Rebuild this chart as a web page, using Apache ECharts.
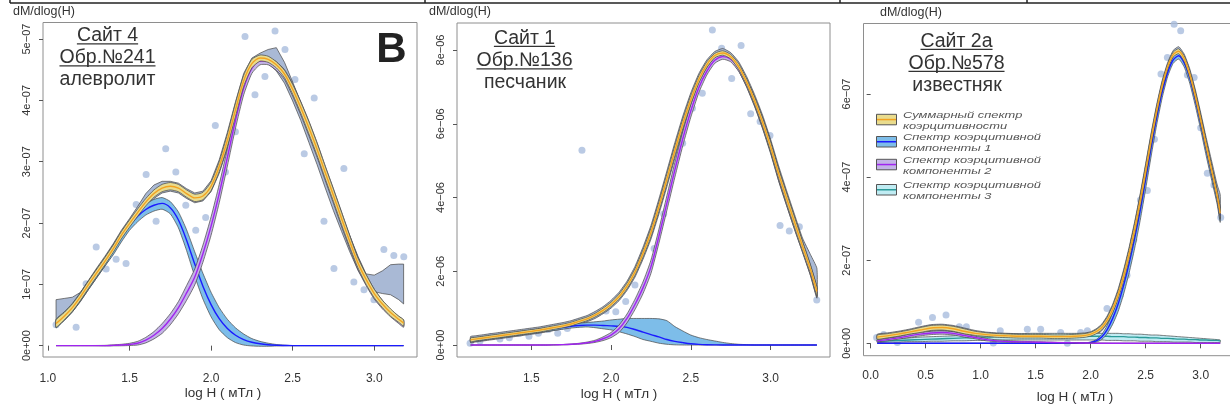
<!DOCTYPE html>
<html><head><meta charset="utf-8">
<script src="https://cdn.jsdelivr.net/npm/echarts@6/dist/echarts.min.js"></script>
<style>html,body{margin:0;padding:0;background:#fff}#c{width:1230px;height:414px}</style>
</head><body><div id="c"></div>
<script>
// ---------- Panel 1 (Сайт 4) : values in 1e-07 ----------
const p1X = [1.05,1.10,1.15,1.20,1.25,1.30,1.35,1.40,1.45,1.50,1.55,1.60,1.65,1.70,1.75,1.80,1.85,1.90,1.95,2.00,2.05,2.10,2.15,2.20,2.25,2.30,2.35,2.40,2.45,2.50,2.55,2.60,2.65,2.70,2.75,2.80,2.85,2.90,2.95,3.00,3.05,3.10,3.15,3.18];
const p1Sum = [0.36,0.48,0.62,0.80,1.00,1.19,1.38,1.58,1.80,1.99, 2.17,2.34,2.48,2.57,2.60,2.57,2.48,2.41,2.44,2.60, 2.92,3.35,3.85,4.32,4.60,4.69,4.67,4.58,4.43,4.18, 3.88,3.55,3.20,2.82,2.45,2.07,1.70,1.35,1.08,0.85, 0.68,0.54,0.43,0.37];
const p1SumHw = [0.06,0.06,0.06,0.06,0.06,0.06,0.06,0.06,0.06,0.06, 0.06,0.06,0.06,0.06,0.06,0.06,0.06,0.06,0.06,0.07, 0.08,0.10,0.11,0.09,0.07,0.05,0.05,0.05,0.06,0.08, 0.09,0.10,0.10,0.10,0.10,0.10,0.09,0.08,0.08,0.07, 0.06,0.06,0.05,0.05];
const p1C1 = [0.36,0.48,0.62,0.80,0.99,1.18,1.37,1.56,1.77,1.96, 2.11,2.22,2.29,2.32,2.25,2.05,1.72,1.33,0.97,0.67, 0.44,0.28,0.17,0.10,0.055,0.03,0.015,0.007,0.003,0, 0,0,0,0,0,0,0,0,0,0, 0,0,0,0];
const p1C1Hw = [0.07,0.07,0.07,0.07,0.07,0.07,0.07,0.08,0.08,0.08, 0.09,0.09,0.095,0.095,0.10,0.13,0.17,0.20,0.21,0.20, 0.18,0.15,0.12,0.09,0.06,0.04,0.025,0.012,0.005,0, 0,0,0,0,0,0,0,0,0,0, 0,0,0,0];
const p1C2 = [0,0,0,0,0,0,0,0.005,0.01,0.02, 0.04,0.09,0.17,0.28,0.43,0.62,0.86,1.12,1.50,1.95, 2.48,3.07,3.68,4.20,4.52,4.64,4.64,4.56,4.42,4.17, 3.87,3.54,3.19,2.81,2.44,2.06,1.69,1.34,1.07,0.84, 0.67,0.53,0.42,0.36];
const p1C2Hw = [0,0,0,0,0.002,0.003,0.005,0.008,0.012,0.018, 0.03,0.045,0.06,0.08,0.09,0.10,0.12,0.13,0.14,0.15, 0.15,0.14,0.13,0.11,0.08,0.06,0.06,0.07,0.08,0.10, 0.11,0.12,0.12,0.12,0.12,0.12,0.11,0.10,0.09,0.08, 0.07,0.06,0.06,0.06];
const p1GrayLo = [0.30,0.41,0.55,0.72,0.92,1.11,1.30,1.50,1.72,1.91, 2.09,2.26,2.40,2.49,2.52,2.49,2.40,2.33,2.36,2.51, 2.81,3.22,3.71,4.20,4.51,4.62,4.60,4.48,4.28,3.99, 3.67,3.31,2.95,2.57,2.20,1.86,1.53,1.23,1.00,0.88, 0.85,0.83,0.75,0.68];
const p1GrayHi = [0.75,0.77,0.79,0.87,1.07,1.27,1.46,1.66,1.88,2.07, 2.27,2.48,2.62,2.68,2.68,2.65,2.56,2.49,2.52,2.69, 3.03,3.48,3.98,4.44,4.69,4.77,4.83,4.86,4.62,4.30, 3.96,3.62,3.26,2.88,2.52,2.14,1.79,1.46,1.17,1.15, 1.22,1.32,1.33,1.33];
const p1PtX = [1.05,1.173,1.234,1.296,1.357,1.418,1.479,1.541,1.602,1.663,1.722,1.784,1.845,1.906,1.967,2.026,2.088,2.149,2.208,2.269,2.33,2.392,2.453,2.514,2.571,2.632,2.692,2.753,2.814,2.875,2.937,2.998,3.059,3.12,3.181];
const p1PtY = [0.34,0.30,1.01,1.61,1.25,1.41,1.34,2.30,2.79,2.03,3.21,2.83,2.29,1.88,2.09,3.59,2.83,3.49,5.04,4.09,4.39,5.13,4.83,4.34,3.13,4.04,2.03,1.26,2.89,1.04,0.91,0.75,1.57,1.47,1.45];
const p1XTicks = [1.0,1.5,2.0,2.5,3.0];
const p1YTicks = [0,1,2,3,4,5];
const p1YLabels = ['0e+00','1e\u221207','2e\u221207','3e\u221207','4e\u221207','5e\u221207'];

// ---------- Panel 2 (Сайт 1) : values in 1e-06 ----------
const p2X = [1.12,1.15,1.20,1.25,1.30,1.35,1.40,1.45,1.50,1.55,1.60,1.65,1.70,1.75,1.80,1.85,1.90,1.95,2.00,2.05,2.10,2.15,2.20,2.25,2.30,2.35,2.40,2.45,2.50,2.55,2.60,2.65,2.70,2.75,2.80,2.85,2.90,2.95,3.00,3.05,3.10,3.15,3.20,3.25,3.29];
const p2Sum = [0.14, 0.16,0.19,0.22,0.25,0.28,0.31,0.34,0.37,0.40,0.44, 0.48,0.52,0.57,0.64,0.71,0.81,0.94,1.10,1.31,1.60, 1.98,2.48,3.05,3.75,4.50,5.27,6.00,6.65,7.20,7.60, 7.85,7.92,7.82,7.55,7.13,6.62,6.04,5.38,4.65,3.98, 3.33,2.68,2.05,1.45];
const p2SumHw = [0.05, 0.05,0.05,0.05,0.05,0.05,0.05,0.05,0.05,0.05,0.05, 0.05,0.05,0.05,0.05,0.05,0.05,0.06,0.06,0.07,0.08, 0.09,0.10,0.12,0.13,0.14,0.14,0.13,0.12,0.10,0.08, 0.06,0.06,0.06,0.08,0.09,0.10,0.12,0.13,0.13,0.14, 0.14,0.13,0.12,0.12];
const p2C1 = [0.13, 0.15,0.18,0.21,0.24,0.27,0.30,0.33,0.36,0.39,0.42, 0.45,0.48,0.51,0.53,0.54,0.54,0.53,0.52,0.51,0.48, 0.42,0.35,0.28,0.22,0.15,0.10,0.065,0.035,0.018,0.008, 0.003,0,0,0,0,0,0,0,0,0, 0,0,0,0];
const p2C1Lo = [0.08, 0.10,0.13,0.16,0.19,0.22,0.25,0.28,0.31,0.34,0.37, 0.40,0.43,0.46,0.48,0.49,0.47,0.44,0.41,0.36,0.30, 0.23,0.15,0.10,0.05,0.02,0.005,0,0,0,0, 0,0,0,0,0,0,0,0,0,0, 0,0,0,0];
const p2C1Hi = [0.18, 0.20,0.23,0.26,0.29,0.32,0.35,0.38,0.41,0.44,0.47, 0.50,0.53,0.56,0.59,0.61,0.63,0.65,0.68,0.70,0.72, 0.72,0.72,0.72,0.71,0.66,0.50,0.38,0.27,0.20,0.15, 0.11,0.07,0.04,0.02,0.01,0,0,0,0,0, 0,0,0,0];
const p2C2 = [0, 0,0,0,0,0,0,0,0,0,0, 0.005,0.01,0.02,0.035,0.06,0.10,0.17,0.27,0.44,0.72, 1.10,1.55,2.12,2.95,3.85,4.75,5.60,6.35,6.98,7.42, 7.72,7.82,7.75,7.50,7.10,6.60,6.02,5.37,4.62,3.95, 3.30,2.66,2.02,1.43];
const p2C2Hw = [0, 0,0,0,0,0,0,0,0,0,0, 0.003,0.005,0.008,0.012,0.02,0.03,0.05,0.07,0.10,0.12, 0.14,0.16,0.18,0.19,0.20,0.20,0.19,0.17,0.14,0.10, 0.08,0.07,0.07,0.08,0.10,0.12,0.14,0.15,0.16,0.16, 0.16,0.15,0.14,0.13];
const p2GrayLo = [0.06, 0.08,0.11,0.14,0.17,0.20,0.23,0.26,0.29,0.32,0.36, 0.40,0.44,0.49,0.56,0.63,0.72,0.85,1.00,1.20,1.48, 1.84,2.32,2.87,3.55,4.29,5.06,5.80,6.47,7.05,7.48, 7.75,7.82,7.72,7.43,6.99,6.46,5.86,5.19,4.45,3.78, 3.13,2.52,1.88,1.27];
const p2GrayHi = [0.23, 0.25,0.28,0.31,0.34,0.37,0.40,0.43,0.46,0.49,0.53, 0.57,0.61,0.66,0.73,0.80,0.91,1.04,1.21,1.43,1.73, 2.13,2.65,3.24,3.96,4.72,5.49,6.21,6.84,7.36,7.73, 7.96,8.04,7.93,7.68,7.28,6.79,6.23,5.58,4.86,4.19, 3.54,2.90,2.45,2.08];
const p2PtX = [1.117,1.179,1.246,1.304,1.363,1.426,1.486,1.545,1.607,1.666,1.726,1.787,1.818,1.969,2.03,2.092,2.15,2.27,2.33,2.449,2.51,2.572,2.635,2.693,2.756,2.815,2.875,2.934,2.996,3.059,3.117,3.18,3.289];
const p2PtY = [0.05,0.11,0.23,0.16,0.20,0.32,0.24,0.32,0.42,0.32,0.45,0.56,5.28,0.92,0.90,1.18,1.63,2.62,3.55,5.47,6.42,6.83,8.54,8.05,7.23,8.12,6.27,6.06,5.68,3.24,3.09,3.21,1.22];
const p2XTicks = [1.5,2.0,2.5,3.0];
const p2YTicks = [0,2,4,6,8];
const p2YLabels = ['0e+00','2e\u221206','4e\u221206','6e\u221206','8e\u221206'];

// ---------- Panel 3 (Сайт 2а) : values in 1e-07 ----------
const p3X = [0.06,0.15,0.25,0.35,0.45,0.55,0.65,0.75,0.85,0.95, 1.05,1.15,1.25,1.35,1.45,1.55,1.65,1.75,1.85,1.95, 2.00,2.05,2.10,2.15,2.20,2.25,2.30,2.35,2.40,2.45, 2.50,2.55,2.60,2.65,2.70,2.75,2.80,2.85,2.90,2.95, 3.00,3.05,3.10,3.15,3.177];
const p3Sum = [0.15,0.18,0.22,0.27,0.32,0.37,0.38,0.35,0.29,0.24, 0.21,0.19,0.18,0.17,0.17,0.17,0.16,0.16,0.17,0.19, 0.22,0.28,0.38,0.56,0.82,1.17,1.62,2.15,2.75,3.42, 4.15,4.90,5.60,6.20,6.66,6.95,7.03,6.85,6.48,5.97, 5.38,4.76,4.16,3.55,3.13];
const p3SumHw = [0.05,0.05,0.05,0.05,0.06,0.06,0.06,0.06,0.06,0.05, 0.045,0.045,0.045,0.045,0.045,0.045,0.045,0.045,0.045,0.045, 0.045,0.05,0.06,0.07,0.09,0.10,0.12,0.13,0.14,0.14, 0.14,0.13,0.11,0.09,0.07,0.06,0.06,0.07,0.09,0.10, 0.11,0.12,0.12,0.12,0.12];
const p3C1 = [0,0,0,0,0,0,0,0,0,0, 0,0,0,0,0,0,0,0,0.002,0.008, 0.02,0.06,0.15,0.33,0.60,0.95,1.40,1.93,2.53,3.20, 3.95,4.72,5.44,6.05,6.52,6.82,6.92,6.75,6.39,5.88, 5.30,4.68,4.09,3.51,3.07];
const p3C1Hw = [0,0,0,0,0,0,0,0,0,0, 0,0,0,0,0,0,0,0,0.002,0.005, 0.01,0.03,0.06,0.10,0.14,0.18,0.21,0.23,0.24,0.24, 0.23,0.21,0.18,0.14,0.10,0.08,0.08,0.10,0.13,0.15, 0.16,0.17,0.17,0.17,0.16];
const p3C2 = [0.06,0.09,0.13,0.18,0.22,0.25,0.26,0.24,0.19,0.14, 0.09,0.06,0.045,0.035,0.03,0.025,0.02,0.015,0.01,0.008, 0.005,0.003,0.002,0.001,0,0,0,0,0,0, 0,0,0,0,0,0,0,0,0,0, 0,0,0,0,0];
const p3C2Hw = [0.02,0.03,0.03,0.04,0.04,0.04,0.04,0.04,0.04,0.03, 0.03,0.02,0.02,0.015,0.012,0.01,0.008,0.006,0.005,0.004, 0.003,0.002,0.001,0,0,0,0,0,0,0, 0,0,0,0,0,0,0,0,0,0, 0,0,0,0,0];
const p3C3 = [0.05,0.06,0.07,0.08,0.09,0.10,0.11,0.12,0.13,0.14, 0.15,0.16,0.16,0.17,0.17,0.17,0.17,0.17,0.17,0.17, 0.17,0.17,0.17,0.17,0.16,0.16,0.16,0.15,0.15,0.14, 0.14,0.13,0.13,0.12,0.12,0.11,0.10,0.10,0.09,0.09, 0.08,0.08,0.07,0.07,0.06];
const p3C3Lo = [0.02,0.03,0.03,0.04,0.04,0.05,0.05,0.06,0.06,0.07, 0.07,0.08,0.08,0.08,0.08,0.08,0.08,0.08,0.08,0.08, 0.08,0.08,0.08,0.07,0.07,0.07,0.06,0.06,0.06,0.05, 0.05,0.05,0.04,0.04,0.04,0.03,0.03,0.03,0.03,0.02, 0.02,0.02,0.02,0.02,0.02];
const p3C3Hi = [0.08,0.09,0.11,0.13,0.15,0.16,0.17,0.18,0.20,0.21, 0.22,0.22,0.23,0.23,0.24,0.24,0.24,0.24,0.24,0.24, 0.24,0.24,0.24,0.24,0.24,0.24,0.23,0.23,0.22,0.22, 0.21,0.20,0.20,0.19,0.18,0.17,0.16,0.15,0.14,0.13, 0.12,0.11,0.10,0.09,0.08];
const p3GrayLo = [0.08,0.11,0.15,0.20,0.24,0.29,0.30,0.27,0.21,0.17, 0.15,0.13,0.12,0.11,0.11,0.11,0.10,0.10,0.11,0.13, 0.16,0.21,0.30,0.47,0.71,1.04,1.48,2.00,2.59,3.26, 3.99,4.75,5.47,6.09,6.57,6.87,6.95,6.76,6.37,5.85, 5.25,4.62,4.02,3.40,2.98];
const p3GrayHi = [0.22,0.25,0.29,0.34,0.40,0.45,0.46,0.43,0.37,0.31, 0.27,0.25,0.24,0.23,0.23,0.23,0.22,0.22,0.23,0.25, 0.28,0.35,0.46,0.66,0.94,1.31,1.78,2.32,2.93,3.60, 4.33,5.07,5.75,6.33,6.76,7.05,7.14,6.96,6.61,6.12, 5.55,4.95,4.38,3.81,3.58];
const p3PtX = [0.054,0.118,0.243,0.436,0.562,0.685,0.806,0.87,1.115,1.178,1.424,1.545,1.606,1.727,1.788,1.909,1.97,2.148,2.27,2.33,2.392,2.452,2.515,2.579,2.639,2.697,2.758,2.818,2.879,2.94,3.0,3.06,3.12,3.182];
const p3PtY = [0.14,0.21,0.02,0.51,0.62,0.68,0.40,0.40,0.01,0.30,0.34,0.34,0.16,0.26,0.0,0.26,0.30,0.84,1.16,1.64,2.49,3.45,3.68,4.91,6.48,6.88,7.68,7.52,6.46,6.40,5.19,4.09,3.81,3.03];
const p3XTicks = [0,0.5,1.0,1.5,2.0,2.5,3.0];
const p3YTicks = [0,2,4,6];
const p3YLabels = ['0e+00','2e\u221207','4e\u221207','6e\u221207'];

// ---------- texts ----------
const legendTexts = [['Суммарный спектр','коэрцитивности'],['Спектр коэрцитивной','компоненты 1'],['Спектр коэрцитивной','компоненты 2'],['Спектр коэрцитивной','компоненты 3']];
const yTitle = 'dM/dlog(H)';
const xTitle = 'log H ( мТл )';

// ---------- styles ----------
const FONT = '"Liberation Sans", Arial, Helvetica, sans-serif';
const C = {
  pt:'#a9bddd', gray:'#a9b9d5', edge:'#454545',
  sumF:'#e9dc8e', sumL:'#f3a21f',
  c1F:'#7dbde9', c1L:'#1b1bff',
  c2F:'#c3b3e7', c2L:'#a024f0',
  c3F:'#c0ecf3', c3L:'#2a9a98'
};

const lo = (c,h)=>c.map((v,i)=>v-h[i]);
const hi = (c,h)=>c.map((v,i)=>v+h[i]);

function scatter(gi, xs, ys){
  return {type:'scatter', xAxisIndex:gi, yAxisIndex:gi, symbolSize:7, z:1, silent:true, clip:true,
    itemStyle:{color:C.pt}, data: xs.map((x,i)=>[x, ys[i]])};
}
function band(gi, xs, l, h, fill, z, smooth){
  return {type:'custom', coordinateSystem:'cartesian2d', xAxisIndex:gi, yAxisIndex:gi, z, silent:true, clip:true,
    data: xs.map((x,i)=>[x, l[i], h[i]]), encode:{x:0, y:[1,2]},
    renderItem:(params, api)=>{
      if (params.dataIndex !== 0) return null;
      const top = xs.map((x,i)=>api.coord([x, h[i]]));
      const bot = xs.map((x,i)=>api.coord([x, l[i]])).reverse();
      return {type:'polygon', shape:{points: top.concat(bot), smooth: smooth}, style:{fill, stroke:C.edge, lineWidth:0.7}};
    }};
}
function curve(gi, xs, ys, color, z){
  return {type:'line', xAxisIndex:gi, yAxisIndex:gi, z, silent:true, showSymbol:false, symbol:'none', smooth:0.3,
    lineStyle:{color, width:1.4}, data: xs.map((x,i)=>[x, ys[i]])};
}
function xAx(gi, min, max, ticks, margin){
  return {type:'value', gridIndex:gi, min, max, axisLine:{show:false}, splitLine:{show:false},
    axisTick:{show:true, length:5, customValues:ticks, lineStyle:{color:'#555', width:1}},
    axisLabel:{customValues:ticks, margin, fontSize:12, color:'#333', fontFamily:FONT, formatter:v=>Number(v).toFixed(1)}};
}
function yAx(gi, min, max, ticks, labels){
  return {type:'value', gridIndex:gi, min, max, axisLine:{show:false}, splitLine:{show:false},
    axisTick:{show:true, length:4, customValues:ticks, lineStyle:{color:'#555', width:1}},
    axisLabel:{customValues:ticks, rotate:90, margin:11, fontSize:11, color:'#333', fontFamily:FONT,
      formatter:v=>labels[ticks.findIndex(t=>Math.abs(t-v)<1e-9)]}};
}
const gridBase = {show:true, borderColor:'#8e8e8e', borderWidth:1, backgroundColor:'rgba(0,0,0,0)', containLabel:false, outerBoundsMode:'none'};

// ---------- graphic texts ----------
const mctx = document.createElement('canvas').getContext('2d');
function tw(text, font){ mctx.font = font; return mctx.measureText(text).width; }
const G = [];
function txt(x, y, text, size, opts){
  opts = opts || {};
  const font = (opts.italic?'italic ':'') + (opts.bold?'bold ':'') + size + 'px ' + FONT;
  G.push({type:'text', x, y, z:100, silent:true, scaleX:opts.sx||1, style:{text, font, fill:opts.fill||'#333', align:opts.align||'center', verticalAlign:'middle'}});
  if (opts.underline){
    const w = tw(text, font);
    const uy = y + size*0.4;
    G.push({type:'line', z:100, silent:true, shape:{x1:x-w/2, y1:uy, x2:x+w/2, y2:uy}, style:{stroke:'#333', lineWidth:1.2}});
  }
}
// top frame fragments
G.push({type:'line', z:100, silent:true, shape:{x1:10, y1:3, x2:1230, y2:3}, style:{stroke:'#222', lineWidth:1.5}});
[10,425,840,1027].forEach(x=>G.push({type:'line', z:100, silent:true, shape:{x1:x, y1:0, x2:x, y2:3}, style:{stroke:'#222', lineWidth:1.5}}));

// panel titles
txt(107.5, 36, 'Сайт 4', 19.5, {underline:true});
txt(107.5, 58, 'Обр.№241', 19.5, {underline:true});
txt(107.5, 80, 'алевролит', 19.5);
txt(391.5, 50, 'B', 42, {bold:true, fill:'#222'});
txt(524.5, 38.5, 'Сайт 1', 19.5, {underline:true});
txt(524.5, 61, 'Обр.№136', 19.5, {underline:true});
txt(525, 83, 'песчаник', 19.5);
txt(956.5, 41.5, 'Сайт 2а', 19.5, {underline:true});
txt(956.5, 63.5, 'Обр.№578', 19.5, {underline:true});
txt(957, 86, 'известняк', 19.5);
// axis titles
txt(13, 12, yTitle, 12.5, {align:'left'});
txt(429, 12, yTitle, 12.5, {align:'left'});
txt(880, 13, yTitle, 12.5, {align:'left'});
txt(223, 393, xTitle, 13.5);
txt(619, 394, xTitle, 13.5);
txt(1075, 397, xTitle, 13.5);
// legend (panel 3)
const legFill = [C.sumF, C.c1F, C.c2F, C.c3F];
const legLine = [C.sumL, C.c1L, C.c2L, C.c3L];
const legTop = [114.3, 136.5, 159.3, 184.5];
legendTexts.forEach((lines, k)=>{
  const y0 = legTop[k];
  G.push({type:'rect', z:100, silent:true, shape:{x:876.5, y:y0, width:20, height:10.5}, style:{fill:legFill[k], stroke:'#555', lineWidth:1}});
  G.push({type:'line', z:101, silent:true, shape:{x1:877, y1:y0+5.25, x2:896, y2:y0+5.25}, style:{stroke:legLine[k], lineWidth:1.5}});
  txt(903, y0+1, lines[0], 9.6, {italic:true, align:'left', fill:'#555', sx:1.34});
  txt(903, y0+12, lines[1], 9.6, {italic:true, align:'left', fill:'#555', sx:1.34});
});

const option = {
  animation:false,
  backgroundColor:'#ffffff',
  grid:[
    Object.assign({left:43, top:22.5, width:374, height:334.5}, gridBase),
    Object.assign({left:457, top:23, width:373, height:334}, gridBase),
    Object.assign({left:863.5, top:23.5, width:370, height:332.2}, gridBase)
  ],
  xAxis:[
    xAx(0, 0.97, 3.262, p1XTicks, 16),
    xAx(1, 1.035, 3.372, p2XTicks, 16),
    xAx(2, -0.065, 3.298, p3XTicks, 14)
  ],
  yAxis:[
    yAx(0, -0.185, 5.27, p1YTicks, p1YLabels),
    yAx(1, -0.325, 8.733, p2YTicks, p2YLabels),
    yAx(2, -0.298, 7.697, p3YTicks, p3YLabels)
  ],
  series:[
    scatter(0, p1PtX, p1PtY),
    band(0, p1X, p1GrayLo, p1GrayHi, C.gray, 2, 0),
    band(0, p1X, lo(p1C1,p1C1Hw), hi(p1C1,p1C1Hw), C.c1F, 3, 0.2),
    curve(0, p1X, p1C1, C.c1L, 4),
    band(0, p1X, lo(p1C2,p1C2Hw), hi(p1C2,p1C2Hw), C.c2F, 5, 0.2),
    curve(0, p1X, p1C2, C.c2L, 6),
    band(0, p1X, lo(p1Sum,p1SumHw), hi(p1Sum,p1SumHw), C.sumF, 7, 0.2),
    curve(0, p1X, p1Sum, C.sumL, 8),

    scatter(1, p2PtX, p2PtY),
    band(1, p2X, p2GrayLo, p2GrayHi, C.gray, 2, 0.15),
    band(1, p2X, p2C1Lo, p2C1Hi, C.c1F, 3, 0.2),
    curve(1, p2X, p2C1, C.c1L, 4),
    band(1, p2X, lo(p2C2,p2C2Hw), hi(p2C2,p2C2Hw), C.c2F, 5, 0.2),
    curve(1, p2X, p2C2, C.c2L, 6),
    band(1, p2X, lo(p2Sum,p2SumHw), hi(p2Sum,p2SumHw), C.sumF, 7, 0.2),
    curve(1, p2X, p2Sum, C.sumL, 8),

    scatter(2, p3PtX, p3PtY),
    band(2, p3X, p3GrayLo, p3GrayHi, C.gray, 2, 0.15),
    band(2, p3X, p3C3Lo, p3C3Hi, C.c3F, 3, 0.2),
    curve(2, p3X, p3C3, C.c3L, 4),
    band(2, p3X, lo(p3C1,p3C1Hw), hi(p3C1,p3C1Hw), C.c1F, 5, 0.2),
    curve(2, p3X, p3C1, C.c1L, 6),
    band(2, p3X, lo(p3C2,p3C2Hw), hi(p3C2,p3C2Hw), C.c2F, 7, 0.2),
    curve(2, p3X, p3C2, C.c2L, 8),
    band(2, p3X, lo(p3Sum,p3SumHw), hi(p3Sum,p3SumHw), C.sumF, 9, 0.2),
    curve(2, p3X, p3Sum, C.sumL, 10)
  ],
  graphic:{elements:G}
};
const chart = echarts.init(document.getElementById('c'), null, {renderer:'canvas', width:1230, height:414});
chart.setOption(option);
</script></body></html>
